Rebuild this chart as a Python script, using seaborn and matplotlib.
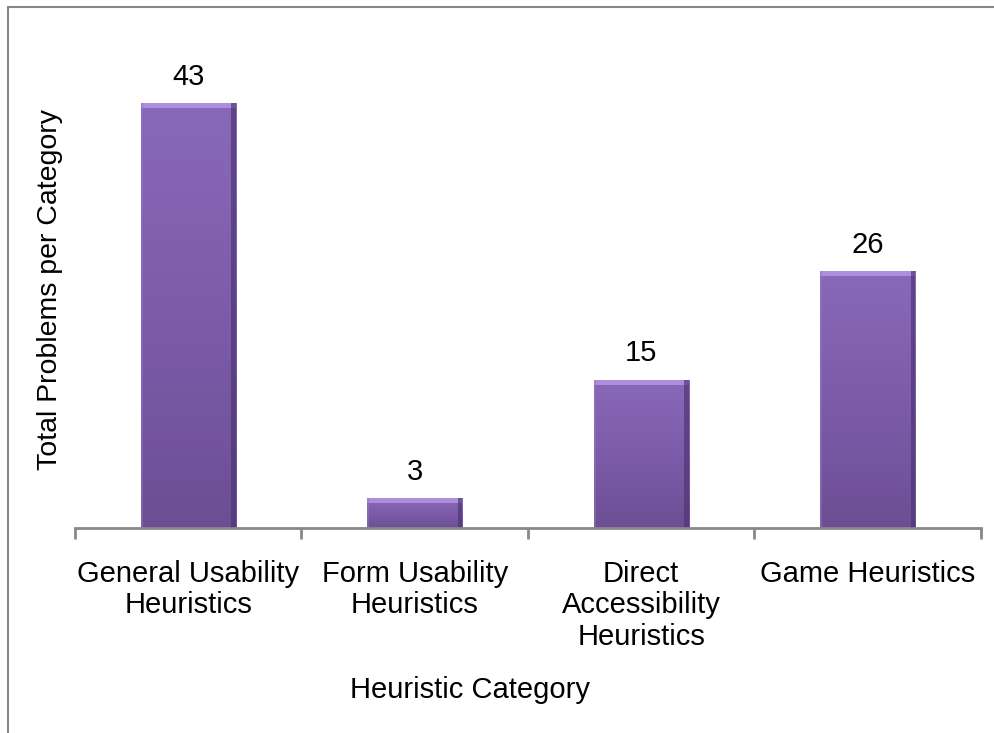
import numpy as np
import pandas as pd
import matplotlib
matplotlib.use("Agg")
import matplotlib.pyplot as plt
import seaborn as sns
from matplotlib.colors import LinearSegmentedColormap

# Data
categories = [
    "General Usability\nHeuristics",
    "Form Usability\nHeuristics",
    "Direct\nAccessibility\nHeuristics",
    "Game Heuristics",
]
problems = [43, 3, 15, 26]

df = pd.DataFrame({"category": categories, "problems": problems})

sns.set_theme(style="white")
plt.rcParams["font.family"] = ["Liberation Sans", "DejaVu Sans"]
FS = 21

fig = plt.figure(figsize=(9.95, 7.33), dpi=100)
ax = fig.add_axes([75 / 995, 205 / 733, 906 / 995, 494 / 733])

sns.barplot(data=df, x="category", y="problems", color="#7e5eac",
            width=0.42, saturation=1, ax=ax)

# vertical gradient + bevel on each bar
grad_cmap = LinearSegmentedColormap.from_list(
    "bar", ["#6c4e94", "#7c5caa", "#8868b8"])
for patch in ax.patches:
    x0, y0 = patch.get_x(), patch.get_y()
    w, h = patch.get_width(), patch.get_height()
    grad = np.linspace(0, 1, 256).reshape(-1, 1)
    im = ax.imshow(grad, cmap=grad_cmap, origin="lower", aspect="auto",
                   extent=[x0, x0 + w, y0, y0 + h], zorder=patch.get_zorder() + 0.1)
    im.set_clip_path(patch)
    # top highlight and dark right edge
    ax.fill_between([x0, x0 + w], y0 + h - 0.5, y0 + h, color="#b898e6",
                    alpha=0.8, lw=0, zorder=patch.get_zorder() + 0.2)
    ax.fill_between([x0 + w * 0.95, x0 + w], y0, y0 + h, color="#4a3470",
                    alpha=0.65, lw=0, zorder=patch.get_zorder() + 0.2)
    ax.fill_between([x0, x0 + w * 0.02], y0, y0 + h, color="#9474c4",
                    alpha=0.5, lw=0, zorder=patch.get_zorder() + 0.2)
    ax.text(x0 + w / 2, y0 + h + 1.25, f"{int(h)}", ha="center", va="bottom",
            fontsize=FS, color="#000000")

ax.set_xlim(-0.5, len(categories) - 0.5)
ax.set_ylim(0, 50)
ax.set_yticks([])
ax.set_xlabel("")
ax.set_ylabel("")

# category boundary ticks
ax.set_xticks(np.arange(len(categories) + 1) - 0.5, minor=False)
ax.set_xticklabels([])
ax.set_xticks(np.arange(len(categories)), minor=True)
ax.set_xticklabels(categories, minor=True, fontsize=FS, linespacing=1.15)
ax.tick_params(axis="x", which="major", length=8, width=2, color="#888888",
               direction="out", bottom=True)
ax.tick_params(axis="x", which="minor", length=0, pad=23, labelcolor="#000000")

for side in ["top", "right", "left"]:
    ax.spines[side].set_visible(False)
ax.spines["bottom"].set_color("#888888")
ax.spines["bottom"].set_linewidth(2)
ax.spines["bottom"].set_zorder(5)

fig.text(50 / 995, 1 - 290 / 733, "Total Problems per Category", rotation=90,
         ha="center", va="center", fontsize=20.5, color="#000000")
fig.text(470 / 995, 1 - 690 / 733, "Heuristic Category", ha="center",
         va="center", fontsize=FS, color="#000000")

# outer chart border (left and top visible)
fig.add_artist(plt.Line2D([8 / 995, 8 / 995], [0, 1 - 7 / 733], color="#888888", lw=1.5))
fig.add_artist(plt.Line2D([8 / 995, 1], [1 - 7 / 733, 1 - 7 / 733], color="#888888", lw=1.5))

fig.savefig("out.png", dpi=100)
